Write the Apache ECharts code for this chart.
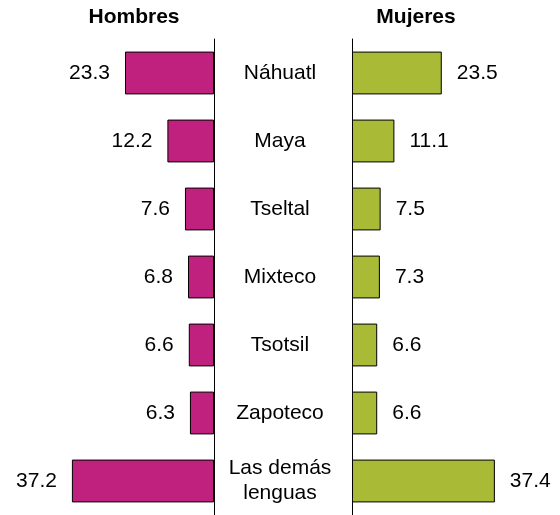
<!DOCTYPE html>
<html><head><meta charset="utf-8">
<script src="https://cdn.jsdelivr.net/npm/echarts@6/dist/echarts.min.js"></script>
<style>html,body{margin:0;padding:0;background:#fff}#c{width:560px;height:515px}</style>
</head><body><div id="c"></div>
<script>
const categories = ['Náhuatl','Maya','Tseltal','Mixteco','Tsotsil','Zapoteco','Las demás\nlenguas'];
const hombres = [23.3,12.2,7.6,6.8,6.6,6.3,37.2];
const mujeres = [23.5,11.1,7.5,7.3,6.6,6.6,37.4];
const titles = ['Hombres','Mujeres'];

const FONT = 'Liberation Sans, Arial, sans-serif';
const FS = 21;
const chart = echarts.init(document.getElementById('c'));
chart.setOption({
  animation:false,
  textStyle:{fontFamily:FONT},
  title:[
    {text:titles[0],left:134,top:7,padding:0,textAlign:'center',textStyle:{fontFamily:FONT,fontSize:FS,fontWeight:'bold',color:'#000'}},
    {text:titles[1],left:416,top:7,padding:0,textAlign:'center',textStyle:{fontFamily:FONT,fontSize:FS,fontWeight:'bold',color:'#000'}}
  ],
  grid:[
    {left:23,width:191,top:39,height:476},
    {left:352,width:191,top:39,height:476}
  ],
  xAxis:[
    {gridIndex:0,type:'value',min:0,max:50,inverse:true,show:false},
    {gridIndex:1,type:'value',min:0,max:50,show:false}
  ],
  yAxis:[
    {gridIndex:0,type:'category',data:categories,inverse:true,position:'right',
     axisLine:{show:true,lineStyle:{color:'#000',width:1}},axisTick:{show:false},
     axisLabel:{show:true,margin:66,align:'center',fontSize:FS,color:'#000',fontFamily:FONT,lineHeight:25}},
    {gridIndex:1,type:'category',data:categories,inverse:true,position:'left',
     axisLine:{show:true,lineStyle:{color:'#000',width:1}},axisTick:{show:false},axisLabel:{show:false}}
  ],
  series:[
    {type:'bar',xAxisIndex:0,yAxisIndex:0,data:hombres,barCategoryGap:'37%',
     itemStyle:{color:'#C0217F',borderColor:'#000',borderWidth:1},
     label:{show:true,position:'left',distance:15,fontSize:FS,color:'#000',fontFamily:FONT,formatter:p=>p.value.toFixed(1)}},
    {type:'bar',xAxisIndex:1,yAxisIndex:1,data:mujeres,barCategoryGap:'37%',
     itemStyle:{color:'#A9BA37',borderColor:'#000',borderWidth:1},
     label:{show:true,position:'right',distance:15,fontSize:FS,color:'#000',fontFamily:FONT,formatter:p=>p.value.toFixed(1)}}
  ]
});
</script></body></html>
